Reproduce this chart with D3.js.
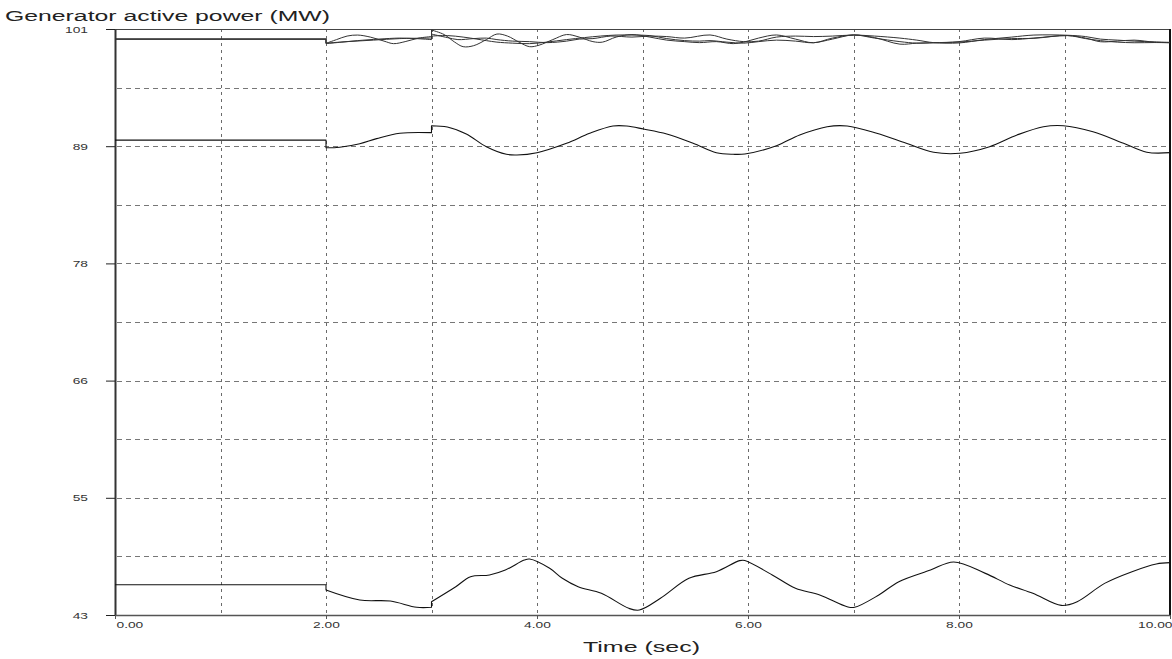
<!DOCTYPE html>
<html>
<head>
<meta charset="utf-8">
<script src="https://cdn.jsdelivr.net/npm/d3@7/dist/d3.min.js"></script>
<style>
  html, body { margin: 0; padding: 0; background: #fff; }
  svg { display: block; }
  text { font-family: "Liberation Sans", Arial, sans-serif; }
</style>
</head>
<body>
<svg id="chart" width="1172" height="659"></svg>
<script>
// ---- data -------------------------------------------------------------
// Simulation time (s) and generator active power (MW).
// A repeated time marks a step (fault applied at 2 s, cleared at 3 s).

const xTickValues = [0, 2, 4, 6, 8, 10];
const xTickLabels = ["0.00", "2.00", "4.00", "6.00", "8.00", "10.00"];
const xGridValues = [1, 2, 3, 4, 5, 6, 7, 8, 9];

const yTickValues = [43, 54.6, 66.2, 77.8, 89.4, 101];
const yTickLabels = ["43", "55", "66", "78", "89", "101"];
const yGridValues = [48.8, 54.6, 60.4, 66.2, 72, 77.8, 83.6, 89.4, 95.2];

// Unit 1 (slow swing)
const gen1Time = [0, 2, 2, 2.2, 2.45, 2.7, 3.0, 3.0, 3.15, 3.25, 3.4, 3.52, 3.62, 3.77, 3.93, 4.1, 4.28,
  4.4, 4.53, 4.7, 4.9, 5.07, 5.23, 5.4, 5.64, 5.8, 5.96, 6.1, 6.27, 6.45, 6.62, 6.8, 7.0, 7.2, 7.44,
  7.6, 7.76, 8.0, 8.24, 8.5, 8.71, 9.03, 9.2, 9.34, 9.5, 9.66, 9.85, 10];
const gen1Power = [100.0, 100.0, 99.6, 99.75, 99.9, 100.05, 100.1, 100.5, 100.15, 99.95, 100.05, 100.1,
  99.95, 99.8, 99.75, 99.65, 99.8, 100.0, 100.05, 100.3, 100.2, 100.3, 100.25, 100.1, 100.41, 100.0,
  99.75, 99.8, 100.2, 100.3, 100.25, 100.3, 100.4, 100.3, 100.1, 99.9, 99.65, 99.62, 99.95, 100.2,
  100.4, 100.38, 100.25, 100.0, 99.9, 99.8, 99.72, 99.68];

// Unit 2 (strong local swing)
const gen2Time = [0, 2, 2, 2.1, 2.2, 2.3, 2.42, 2.55, 2.64, 2.75, 2.88, 3.0, 3.0, 3.12, 3.22, 3.3, 3.4,
  3.52, 3.62, 3.72, 3.83, 3.93, 4.02, 4.15, 4.28, 4.4, 4.53, 4.62, 4.75, 4.9, 5.07, 5.23, 5.4, 5.54,
  5.7, 5.86, 5.96, 6.1, 6.27, 6.45, 6.62, 6.8, 7.0, 7.2, 7.44, 7.6, 7.76, 8.0, 8.24, 8.5, 8.71, 9.03,
  9.2, 9.34, 9.5, 9.66, 9.85, 10];
const gen2Power = [100.0, 100.0, 99.58, 99.95, 100.3, 100.4, 100.2, 99.8, 99.55, 99.75, 100.1, 100.25,
  100.9, 100.45, 99.7, 99.25, 99.35, 99.95, 100.5, 100.3, 99.7, 99.25, 99.4, 99.95, 100.45, 100.2,
  99.75, 99.7, 100.2, 100.45, 100.2, 99.9, 99.75, 99.65, 99.75, 99.55, 99.7, 100.1, 100.41, 100.0,
  99.64, 100.1, 100.41, 100.15, 99.5, 99.6, 99.64, 99.75, 100.1, 99.95, 100.1, 100.35, 100.1, 99.74,
  99.8, 99.9, 99.7, 99.65];

// Unit 3 (counter-phase swing)
const gen3Time = [0, 2, 2, 2.15, 2.3, 2.5, 2.7, 2.85, 3.0, 3.0, 3.15, 3.3, 3.43, 3.52, 3.62, 3.77, 3.93,
  4.09, 4.28, 4.45, 4.6, 4.75, 4.91, 5.07, 5.23, 5.4, 5.54, 5.64, 5.8, 5.96, 6.1, 6.27, 6.45, 6.62,
  6.8, 7.0, 7.2, 7.44, 7.6, 7.76, 8.0, 8.24, 8.5, 8.71, 9.03, 9.2, 9.34, 9.5, 9.66, 9.85, 10];
const gen3Power = [100.0, 100.0, 99.55, 99.7, 99.85, 100.0, 100.1, 100.05, 99.95, 100.3, 100.35, 100.2,
  100.0, 99.85, 99.7, 99.6, 99.55, 99.7, 99.95, 100.15, 100.3, 100.4, 100.4, 100.35, 100.05, 99.85,
  99.8, 99.85, 99.7, 99.6, 99.75, 99.9, 99.8, 99.64, 100.0, 100.41, 100.1, 99.75, 99.6, 99.64, 99.7,
  99.9, 100.05, 100.08, 100.35, 100.05, 99.85, 99.7, 99.64, 99.66, 99.64];

// Unit 4 (~90 MW)
const gen4Time = [0, 2, 2, 2.13, 2.32, 2.48, 2.7, 3.0, 3.0, 3.15, 3.33, 3.52, 3.71, 3.81, 4.0, 4.28, 4.5,
  4.72, 4.85, 5.01, 5.23, 5.48, 5.7, 5.86, 5.97, 6.27, 6.49, 6.75, 6.94, 7.22, 7.5, 7.76, 8.01, 8.29,
  8.55, 8.8, 8.99, 9.27, 9.56, 9.78, 10];
const gen4Power = [90.0, 90.0, 89.25, 89.3, 89.65, 90.15, 90.68, 90.74, 91.43, 91.3, 90.61, 89.35, 88.6,
  88.53, 88.76, 89.69, 90.68, 91.4, 91.4, 91.1, 90.61, 89.69, 88.76, 88.6, 88.63, 89.45, 90.51, 91.33,
  91.4, 90.68, 89.69, 88.8, 88.7, 89.35, 90.51, 91.33, 91.43, 90.83, 89.69, 88.8, 88.76];

// Unit 5 (~46 MW)
const gen5Time = [0, 2, 2, 2.32, 2.61, 2.86, 3.0, 3.0, 3.23, 3.37, 3.55, 3.7, 3.88, 3.93, 4.12, 4.24, 4.39,
  4.61, 4.87, 4.97, 5.17, 5.44, 5.7, 5.92, 5.97, 6.23, 6.45, 6.68, 6.94, 7.01, 7.24, 7.43, 7.73, 7.95,
  8.25, 8.48, 8.7, 8.97, 9.12, 9.38, 9.64, 9.87, 10];
const gen5Power = [46.0, 46.0, 45.47, 44.48, 44.38, 43.76, 43.76, 44.32, 45.8, 46.79, 46.96, 47.45, 48.44,
  48.54, 47.62, 46.63, 45.8, 45.15, 43.66, 43.49, 44.65, 46.63, 47.29, 48.38, 48.4, 46.96, 45.64, 44.98,
  43.82, 43.76, 44.98, 46.3, 47.45, 48.25, 47.12, 45.97, 45.15, 43.95, 44.32, 46.13, 47.29, 48.05, 48.18];

const seriesList = [
  { time: gen1Time, power: gen1Power, width: 1.0, color: "#333" },
  { time: gen2Time, power: gen2Power, width: 1.0, color: "#333" },
  { time: gen3Time, power: gen3Power, width: 1.0, color: "#333" },
  { time: gen4Time, power: gen4Power, width: 1.1, color: "#111" },
  { time: gen5Time, power: gen5Power, width: 1.1, color: "#111" }
];

// ---- layout -----------------------------------------------------------
const plot = { left: 115, right: 1170, top: 29, bottom: 615 };
const stretch = 1.45; // horizontal stretch applied to small labels

const svg = d3.select("#chart");
const x = d3.scaleLinear().domain([0, 10]).range([plot.left, plot.right]);
const y = d3.scaleLinear().domain([43, 101]).range([plot.bottom, plot.top]);

// ---- grid -------------------------------------------------------------
const grid = svg.append("g").attr("class", "grid");
grid.selectAll("line.h").data(yGridValues).join("line")
  .attr("class", "h")
  .attr("x1", plot.left + 2).attr("x2", plot.right)
  .attr("y1", d => Math.round(y(d)) + 0.5).attr("y2", d => Math.round(y(d)) + 0.5)
  .attr("stroke", "#777").attr("stroke-width", 1)
  .attr("stroke-dasharray", "5,4");
grid.selectAll("line.v").data(xGridValues).join("line")
  .attr("class", "v")
  .attr("x1", d => Math.round(x(d)) + 0.5).attr("x2", d => Math.round(x(d)) + 0.5)
  .attr("y1", plot.top).attr("y2", plot.bottom)
  .attr("stroke", "#6a6a6a").attr("stroke-width", 1)
  .attr("stroke-dasharray", "3,4");

// ---- frame ------------------------------------------------------------
svg.append("line")
  .attr("x1", plot.left).attr("x2", plot.right)
  .attr("y1", plot.top + 0.5).attr("y2", plot.top + 0.5)
  .attr("stroke", "#444").attr("stroke-width", 1);
svg.append("line")
  .attr("x1", plot.right).attr("x2", plot.right)
  .attr("y1", plot.top).attr("y2", plot.bottom + 1)
  .attr("stroke", "#111").attr("stroke-width", 2);

// ---- axes -------------------------------------------------------------
const yAxis = d3.axisLeft(y)
  .tickValues(yTickValues)
  .tickFormat((d, i) => yTickLabels[i])
  .tickSize(9).tickSizeOuter(0);
const gy = svg.append("g").attr("transform", `translate(${plot.left},0)`).call(yAxis);
gy.select(".domain").attr("stroke", "#333").attr("stroke-width", 2);
gy.selectAll(".tick line").attr("stroke", "#222").attr("stroke-width", 1);
gy.selectAll(".tick text")
  .attr("font-size", 9.5)
  .attr("fill", "#333")
  .attr("x", -27 / stretch)
  .attr("transform", `scale(${stretch},1)`);

const xAxis = d3.axisBottom(x)
  .tickValues(xTickValues)
  .tickFormat((d, i) => xTickLabels[i])
  .tickSize(4).tickSizeOuter(0);
const gx = svg.append("g").attr("transform", `translate(0,${plot.bottom})`).call(xAxis);
gx.select(".domain").attr("stroke", "#555").attr("stroke-width", 1.5);
gx.selectAll(".tick line").attr("stroke", "#555");
gx.selectAll(".tick text")
  .attr("font-size", 9.5)
  .attr("fill", "#333")
  .attr("y", 6)
  .each(function (d, i) {
    const t = d3.select(this);
    // keep the end labels inside the frame
    let anchor = "middle", dx = 0;
    if (i === 0) { anchor = "start"; dx = 1; }
    if (i === xTickValues.length - 1) { anchor = "end"; dx = 2; }
    t.attr("text-anchor", anchor)
      .attr("x", dx / stretch)
      .attr("transform", `scale(${stretch},1)`);
  });

// ---- curves -----------------------------------------------------------
const line = d3.line()
  .x(d => x(d[0]))
  .y(d => y(d[1]))
  .curve(d3.curveCatmullRom.alpha(0.5));

function buildPath(time, power) {
  const segments = [[]];
  time.forEach((t, i) => {
    if (i > 0 && t === time[i - 1]) segments.push([]);
    segments[segments.length - 1].push([t, power[i]]);
  });
  return segments.map((seg, i) => {
    const d = line(seg);
    return i === 0 ? d : "L" + d.slice(1);
  }).join("");
}

svg.append("g").attr("class", "curves")
  .selectAll("path").data(seriesList).join("path")
  .attr("d", s => buildPath(s.time, s.power))
  .attr("fill", "none")
  .attr("stroke", s => s.color)
  .attr("stroke-width", s => s.width)
  .attr("stroke-linejoin", "round");

// ---- titles -----------------------------------------------------------
svg.append("text")
  .attr("x", 5).attr("y", 20.5)
  .attr("font-size", 15.5)
  .attr("fill", "#222")
  .attr("textLength", 325).attr("lengthAdjust", "spacingAndGlyphs")
  .text("Generator active power (MW)");

svg.append("text")
  .attr("x", 583).attr("y", 652)
  .attr("font-size", 15.5)
  .attr("fill", "#222")
  .attr("textLength", 117).attr("lengthAdjust", "spacingAndGlyphs")
  .text("Time (sec)");
</script>
</body>
</html>
